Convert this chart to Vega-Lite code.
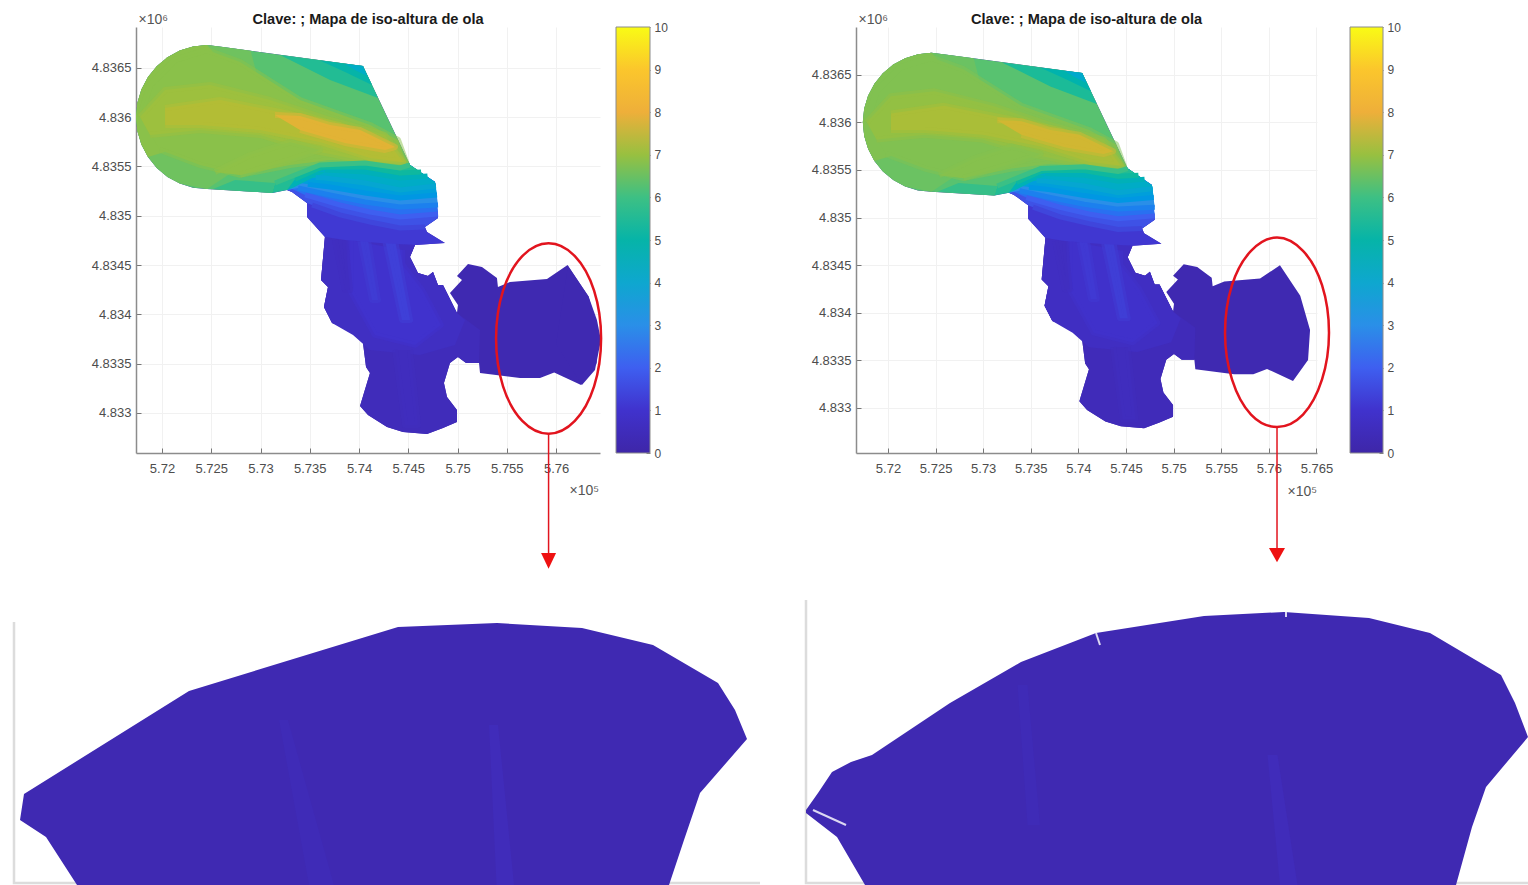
{"$schema":"https://vega.github.io/schema/vega-lite/v6.json","padding":{"left":9,"top":12,"right":0,"bottom":0},"columns":9,"bounds":"flush","spacing":{"row":147,"column":0},"resolve":{"scale":{"color":"independent"}},
"config":{"font":"Liberation Sans","view":{"stroke":null},"title":{"font":"Liberation Sans","fontSize":14.6,"fontWeight":"bold","color":"#1a1a1a","anchor":"middle","offset":-15},"axis":{"grid":true,"gridColor":"#f1f1f1","domainColor":"#8c8c8c","domainWidth":1.5,"tickColor":"#777777","tickSize":-5,"labelColor":"#4d4d4d","labelFontSize":13,"labelFont":"Liberation Sans","labelOverlap":false,"labelFlush":false,"titleFontWeight":"normal","titleFont":"Liberation Sans","titleColor":"#555555","titleFontSize":14,"titleAlign":"left","titleBaseline":"alphabetic","titleAngle":0}},
"datasets":{
"lev":[{"p":"a","v":0.25,"w":0.25},{"p":"a2","v":0.25},{"p":"b","v":0.48,"w":0.46},{"p":"c","v":0.72,"w":0.7},{"p":"d","v":1.0,"w":0.95},{"p":"e","v":1.2,"w":1.15},{"p":"f","v":1.3,"w":1.25},{"p":"g","v":0.65,"w":0.65},{"p":"h","v":0.6,"w":0.6},{"p":"i","v":1.15,"w":1.1},{"p":"j","v":1.7,"w":1.7},{"p":"k","v":2.3,"w":2.3},{"p":"l","v":3.0,"w":3.0},{"p":"m","v":3.6,"w":3.6},{"p":"n","v":4.3,"w":4.3},{"p":"o0","v":4.7,"w":4.7},{"p":"o","v":5.0,"w":5.0},{"p":"o2","v":5.6,"w":5.6},{"p":"q","v":6.3,"w":6.3},{"p":"q2","v":6.55,"w":6.5},{"p":"q3","v":6.85,"w":6.75},{"p":"r","v":5.9,"w":5.9},{"p":"s","v":5.6,"w":5.5},{"p":"t","v":5.0,"w":4.9},{"p":"u","v":4.3,"w":4.1},{"p":"v1","v":6.85,"w":6.75},{"p":"v2","v":7.05,"w":6.95},{"p":"v3","v":7.3,"w":7.2},{"p":"v4","v":7.85,"w":7.65},{"p":"v5","v":6.9,"w":6.8}],
"cur":[{"p":"j","v":1.42,"x":573523,"y":4835109},{"p":"j","v":1.42,"x":573807,"y":4835008},{"p":"j","v":1.42,"x":574111,"y":4834937},{"p":"j","v":1.42,"x":574416,"y":4834876},{"p":"j","v":1.42,"x":574669,"y":4834886},
{"p":"k","v":2.0,"x":573452,"y":4835211},{"p":"k","v":2.0,"x":573807,"y":4835109},{"p":"k","v":2.0,"x":574111,"y":4835038},{"p":"k","v":2.0,"x":574416,"y":4834988},{"p":"k","v":2.0,"x":574802,"y":4835018},
{"p":"l","v":2.65,"x":573381,"y":4835282},{"p":"l","v":2.65,"x":573706,"y":4835211},{"p":"l","v":2.65,"x":574061,"y":4835140},{"p":"l","v":2.65,"x":574416,"y":4835089},{"p":"l","v":2.65,"x":574802,"y":4835109},
{"p":"m","v":3.3,"x":573480,"y":4835318},{"p":"m","v":3.3,"x":573706,"y":4835292},{"p":"m","v":3.3,"x":574061,"y":4835231},{"p":"m","v":3.3,"x":574416,"y":4835180},{"p":"m","v":3.3,"x":574792,"y":4835211},
{"p":"n","v":3.95,"x":573560,"y":4835388},{"p":"n","v":3.95,"x":573654,"y":4835383},{"p":"n","v":3.95,"x":574061,"y":4835332},{"p":"n","v":3.95,"x":574416,"y":4835261},{"p":"n","v":3.95,"x":574781,"y":4835302},
{"p":"o","v":4.65,"x":573654,"y":4835464},{"p":"o","v":4.65,"x":574061,"y":4835444},{"p":"o","v":4.65,"x":574416,"y":4835383},{"p":"o","v":4.65,"x":574695,"y":4835403},
{"p":"o2","v":5.3,"x":573350,"y":4835370},{"p":"o2","v":5.3,"x":573624,"y":4835495},{"p":"o2","v":5.3,"x":574061,"y":4835495},{"p":"o2","v":5.3,"x":574416,"y":4835434},{"p":"o2","v":5.3,"x":574630,"y":4835444},
{"p":"q","v":5.95,"x":573147,"y":4835332},{"p":"q","v":5.95,"x":573604,"y":4835515},{"p":"q","v":5.95,"x":574061,"y":4835535},{"p":"q","v":5.95,"x":574416,"y":4835485},{"p":"q","v":5.95,"x":574517,"y":4835515}],
"pts":[
{"p":"a","x":571736,"y":4836001},{"p":"a","x":571750,"y":4836143},{"p":"a","x":571791,"y":4836280},{"p":"a","x":571858,"y":4836407},{"p":"a","x":571947,"y":4836517},{"p":"a","x":572056,"y":4836608},{"p":"a","x":572181,"y":4836675},{"p":"a","x":572316,"y":4836717},{"p":"a","x":572457,"y":4836732},{"p":"a","x":572619,"y":4836711},{"p":"a","x":574040,"y":4836519},{"p":"a","x":574517,"y":4835515},{"p":"a","x":574619,"y":4835444},{"p":"a","x":574771,"y":4835342},{"p":"a","x":574801,"y":4834977},{"p":"a","x":574669,"y":4834886},{"p":"a","x":574690,"y":4834835},{"p":"a","x":574872,"y":4834724},{"p":"a","x":574568,"y":4834704},{"p":"a","x":574517,"y":4834582},{"p":"a","x":574598,"y":4834420},{"p":"a","x":574700,"y":4834389},{"p":"a","x":574751,"y":4834430},{"p":"a","x":574801,"y":4834298},{"p":"a","x":574852,"y":4834298},{"p":"a","x":574994,"y":4834014},{"p":"a","x":575004,"y":4834095},{"p":"a","x":574923,"y":4834217},{"p":"a","x":575045,"y":4834349},{"p":"a","x":574994,"y":4834389},{"p":"a","x":575106,"y":4834511},{"p":"a","x":575248,"y":4834480},{"p":"a","x":575400,"y":4834369},{"p":"a","x":575410,"y":4834278},{"p":"a","x":575532,"y":4834328},{"p":"a","x":575908,"y":4834359},{"p":"a","x":576117,"y":4834500},{"p":"a","x":576330,"y":4834180},{"p":"a","x":576433,"y":4833819},{"p":"a","x":576412,"y":4833504},{"p":"a","x":576254,"y":4833284},{"p":"a","x":575981,"y":4833410},{"p":"a","x":575837,"y":4833355},{"p":"a","x":575634,"y":4833355},{"p":"a","x":575228,"y":4833406},{"p":"a","x":575218,"y":4833507},{"p":"a","x":575086,"y":4833507},{"p":"a","x":575004,"y":4833568},{"p":"a","x":574923,"y":4833507},{"p":"a","x":574862,"y":4833304},{"p":"a","x":574893,"y":4833162},{"p":"a","x":574994,"y":4833030},{"p":"a","x":574994,"y":4832909},{"p":"a","x":574852,"y":4832848},{"p":"a","x":574690,"y":4832787},{"p":"a","x":574446,"y":4832807},{"p":"a","x":574284,"y":4832858},{"p":"a","x":574091,"y":4832980},{"p":"a","x":574010,"y":4833071},{"p":"a","x":574111,"y":4833406},{"p":"a","x":574071,"y":4833466},{"p":"a","x":574040,"y":4833710},{"p":"a","x":573939,"y":4833842},{"p":"a","x":573726,"y":4833913},{"p":"a","x":573644,"y":4834075},{"p":"a","x":573685,"y":4834278},{"p":"a","x":573614,"y":4834349},{"p":"a","x":573654,"y":4834785},{"p":"a","x":573472,"y":4834987},{"p":"a","x":573472,"y":4835129},{"p":"a","x":573320,"y":4835241},{"p":"a","x":573269,"y":4835261},{"p":"a","x":573117,"y":4835231},{"p":"a","x":572457,"y":4835271},{"p":"a","x":572316,"y":4835285},{"p":"a","x":572181,"y":4835327},{"p":"a","x":572056,"y":4835394},{"p":"a","x":571947,"y":4835485},{"p":"a","x":571858,"y":4835595},{"p":"a","x":571791,"y":4835722},{"p":"a","x":571750,"y":4835859},
{"p":"a2","x":576121,"y":4834491},{"p":"a2","x":576330,"y":4834180},{"p":"a2","x":576415,"y":4833943},{"p":"a2","x":576456,"y":4833740},{"p":"a2","x":576395,"y":4833436},{"p":"a2","x":576263,"y":4833284},{"p":"a2","x":576000,"y":4833700},
{"p":"b","x":575218,"y":4833507},{"p":"b","x":575086,"y":4833507},{"p":"b","x":575004,"y":4833568},{"p":"b","x":574923,"y":4833507},{"p":"b","x":574862,"y":4833304},{"p":"b","x":574893,"y":4833162},{"p":"b","x":574994,"y":4833030},{"p":"b","x":574994,"y":4832909},{"p":"b","x":574852,"y":4832848},{"p":"b","x":574690,"y":4832787},{"p":"b","x":574446,"y":4832807},{"p":"b","x":574284,"y":4832858},{"p":"b","x":574091,"y":4832980},{"p":"b","x":574010,"y":4833071},{"p":"b","x":574111,"y":4833406},{"p":"b","x":574071,"y":4833466},{"p":"b","x":574040,"y":4833710},{"p":"b","x":573939,"y":4833842},{"p":"b","x":573726,"y":4833913},{"p":"b","x":573644,"y":4834075},{"p":"b","x":573685,"y":4834278},{"p":"b","x":573614,"y":4834349},{"p":"b","x":573654,"y":4834785},{"p":"b","x":574568,"y":4834704},{"p":"b","x":574517,"y":4834582},{"p":"b","x":574598,"y":4834420},{"p":"b","x":574700,"y":4834389},{"p":"b","x":574751,"y":4834430},{"p":"b","x":574801,"y":4834298},{"p":"b","x":574852,"y":4834298},{"p":"b","x":574994,"y":4834014},{"p":"b","x":575228,"y":4833842},
{"p":"c","x":573654,"y":4834785},{"p":"c","x":573614,"y":4834349},{"p":"c","x":573685,"y":4834278},{"p":"c","x":573644,"y":4834075},{"p":"c","x":573726,"y":4833913},{"p":"c","x":573939,"y":4833791},{"p":"c","x":574111,"y":4833639},{"p":"c","x":574619,"y":4833588},{"p":"c","x":574974,"y":4833690},{"p":"c","x":575076,"y":4833943},{"p":"c","x":574994,"y":4834014},{"p":"c","x":574852,"y":4834298},{"p":"c","x":574801,"y":4834298},{"p":"c","x":574751,"y":4834430},{"p":"c","x":574700,"y":4834389},{"p":"c","x":574598,"y":4834420},{"p":"c","x":574517,"y":4834582},{"p":"c","x":574568,"y":4834704},
{"p":"d","x":573909,"y":4834754},{"p":"d","x":573909,"y":4834247},{"p":"d","x":574162,"y":4833791},{"p":"d","x":574568,"y":4833690},{"p":"d","x":574830,"y":4833893},{"p":"d","x":574640,"y":4834247},{"p":"d","x":574440,"y":4834501},{"p":"d","x":574440,"y":4834653},
{"p":"e","x":574010,"y":4834754},{"p":"e","x":574132,"y":4834146},{"p":"e","x":574193,"y":4834146},{"p":"e","x":574091,"y":4834754},
{"p":"f","x":574264,"y":4834754},{"p":"f","x":574436,"y":4833943},{"p":"f","x":574518,"y":4833943},{"p":"f","x":574365,"y":4834754},
{"p":"g","x":573756,"y":4834754},{"p":"g","x":573858,"y":4834247},{"p":"g","x":573909,"y":4834247},{"p":"g","x":573858,"y":4834754},
{"p":"h","x":574365,"y":4833639},{"p":"h","x":574467,"y":4832878},{"p":"h","x":574599,"y":4832878},{"p":"h","x":574518,"y":4833639},
{"p":"i","x":573320,"y":4835241},{"p":"i","x":573269,"y":4835261},{"p":"i","x":573300,"y":4835464},{"p":"i","x":574365,"y":4835768},{"p":"i","x":574517,"y":4835515},{"p":"i","x":574619,"y":4835444},{"p":"i","x":574771,"y":4835342},{"p":"i","x":574801,"y":4834977},{"p":"i","x":574669,"y":4834886},{"p":"i","x":574690,"y":4834835},{"p":"i","x":574872,"y":4834724},{"p":"i","x":574568,"y":4834704},{"p":"i","x":574213,"y":4834724},{"p":"i","x":573858,"y":4834754},{"p":"i","x":573654,"y":4834785},{"p":"i","x":573472,"y":4834987},{"p":"i","x":573472,"y":4835129},
{"p":"j","x":573269,"y":4835261},{"p":"j","x":573300,"y":4835464},{"p":"j","x":574365,"y":4835768},{"p":"j","x":574517,"y":4835515},{"p":"j","x":574619,"y":4835444},{"p":"j","x":574771,"y":4835342},{"p":"j","x":574801,"y":4834977},{"p":"j","x":574669,"y":4834886},{"p":"j","x":574416,"y":4834876},{"p":"j","x":574111,"y":4834937},{"p":"j","x":573807,"y":4835008},{"p":"j","x":573523,"y":4835109},{"p":"j","x":573472,"y":4835129},{"p":"j","x":573320,"y":4835241},
{"p":"k","x":573269,"y":4835261},{"p":"k","x":573300,"y":4835464},{"p":"k","x":574365,"y":4835768},{"p":"k","x":574517,"y":4835515},{"p":"k","x":574619,"y":4835444},{"p":"k","x":574771,"y":4835342},{"p":"k","x":574802,"y":4835018},{"p":"k","x":574416,"y":4834988},{"p":"k","x":574111,"y":4835038},{"p":"k","x":573807,"y":4835109},{"p":"k","x":573452,"y":4835211},{"p":"k","x":573320,"y":4835272},
{"p":"l","x":573269,"y":4835261},{"p":"l","x":573300,"y":4835464},{"p":"l","x":574365,"y":4835768},{"p":"l","x":574517,"y":4835515},{"p":"l","x":574619,"y":4835444},{"p":"l","x":574771,"y":4835342},{"p":"l","x":574802,"y":4835109},{"p":"l","x":574416,"y":4835089},{"p":"l","x":574061,"y":4835140},{"p":"l","x":573706,"y":4835211},{"p":"l","x":573381,"y":4835282},
{"p":"m","x":573269,"y":4835261},{"p":"m","x":573300,"y":4835464},{"p":"m","x":574365,"y":4835768},{"p":"m","x":574517,"y":4835515},{"p":"m","x":574619,"y":4835444},{"p":"m","x":574771,"y":4835342},{"p":"m","x":574792,"y":4835211},{"p":"m","x":574416,"y":4835180},{"p":"m","x":574061,"y":4835231},{"p":"m","x":573706,"y":4835292},{"p":"m","x":573320,"y":4835343},
{"p":"n","x":573269,"y":4835261},{"p":"n","x":573300,"y":4835464},{"p":"n","x":574365,"y":4835768},{"p":"n","x":574517,"y":4835515},{"p":"n","x":574619,"y":4835444},{"p":"n","x":574771,"y":4835342},{"p":"n","x":574781,"y":4835302},{"p":"n","x":574416,"y":4835261},{"p":"n","x":574061,"y":4835332},{"p":"n","x":573654,"y":4835383},{"p":"n","x":573279,"y":4835383},
{"p":"o0","x":573269,"y":4835261},{"p":"o0","x":573340,"y":4835290},{"p":"o0","x":573500,"y":4835370},{"p":"o0","x":573654,"y":4835440},{"p":"o0","x":573300,"y":4835480},
{"p":"o","x":573249,"y":4835403},{"p":"o","x":573300,"y":4835464},{"p":"o","x":574365,"y":4835768},{"p":"o","x":574517,"y":4835515},{"p":"o","x":574619,"y":4835444},{"p":"o","x":574695,"y":4835403},{"p":"o","x":574416,"y":4835383},{"p":"o","x":574061,"y":4835444},{"p":"o","x":573654,"y":4835464},
{"p":"o2","x":573117,"y":4835231},{"p":"o2","x":573269,"y":4835261},{"p":"o2","x":573350,"y":4835370},{"p":"o2","x":573624,"y":4835495},{"p":"o2","x":574061,"y":4835495},{"p":"o2","x":574416,"y":4835434},{"p":"o2","x":574630,"y":4835444},{"p":"o2","x":574517,"y":4835515},{"p":"o2","x":574365,"y":4835768},{"p":"o2","x":573300,"y":4835667},{"p":"o2","x":573100,"y":4835500},
{"p":"q","x":573117,"y":4835231},{"p":"q","x":572457,"y":4835271},{"p":"q","x":572316,"y":4835285},{"p":"q","x":572181,"y":4835327},{"p":"q","x":572056,"y":4835394},{"p":"q","x":571947,"y":4835485},{"p":"q","x":571858,"y":4835595},{"p":"q","x":571791,"y":4835722},{"p":"q","x":571750,"y":4835859},{"p":"q","x":571736,"y":4836001},{"p":"q","x":571750,"y":4836143},{"p":"q","x":571791,"y":4836280},{"p":"q","x":571858,"y":4836407},{"p":"q","x":571947,"y":4836517},{"p":"q","x":572056,"y":4836608},{"p":"q","x":572181,"y":4836675},{"p":"q","x":572316,"y":4836717},{"p":"q","x":572457,"y":4836732},{"p":"q","x":572619,"y":4836711},{"p":"q","x":574040,"y":4836519},{"p":"q","x":574517,"y":4835515},{"p":"q","x":574416,"y":4835485},{"p":"q","x":574061,"y":4835535},{"p":"q","x":573604,"y":4835515},{"p":"q","x":573147,"y":4835332},
{"p":"q2","x":572900,"y":4836673},{"p":"q2","x":572619,"y":4836711},{"p":"q2","x":572457,"y":4836732},{"p":"q2","x":572316,"y":4836717},{"p":"q2","x":572181,"y":4836675},{"p":"q2","x":572056,"y":4836608},{"p":"q2","x":571947,"y":4836517},{"p":"q2","x":571858,"y":4836407},{"p":"q2","x":571791,"y":4836280},{"p":"q2","x":571750,"y":4836143},{"p":"q2","x":571736,"y":4836001},{"p":"q2","x":571750,"y":4835859},{"p":"q2","x":571791,"y":4835722},{"p":"q2","x":571858,"y":4835595},{"p":"q2","x":571947,"y":4835485},{"p":"q2","x":572056,"y":4835394},{"p":"q2","x":572181,"y":4835327},{"p":"q2","x":572457,"y":4835271},{"p":"q2","x":572800,"y":4835500},{"p":"q2","x":573050,"y":4836100},
{"p":"q3","x":572457,"y":4836732},{"p":"q3","x":572316,"y":4836717},{"p":"q3","x":572181,"y":4836675},{"p":"q3","x":572056,"y":4836608},{"p":"q3","x":571947,"y":4836517},{"p":"q3","x":571858,"y":4836407},{"p":"q3","x":571791,"y":4836280},{"p":"q3","x":571750,"y":4836143},{"p":"q3","x":571736,"y":4836001},{"p":"q3","x":571750,"y":4835859},{"p":"q3","x":571791,"y":4835722},{"p":"q3","x":571858,"y":4835595},{"p":"q3","x":572200,"y":4835700},{"p":"q3","x":572600,"y":4836100},{"p":"q3","x":572650,"y":4836500},
{"p":"r","x":572518,"y":4835271},{"p":"r","x":573117,"y":4835231},{"p":"r","x":573147,"y":4835332},{"p":"r","x":572741,"y":4835363},
{"p":"s","x":573198,"y":4836630},{"p":"s","x":574040,"y":4836519},{"p":"s","x":574193,"y":4836194},{"p":"s","x":573706,"y":4836377},
{"p":"t","x":573604,"y":4836575},{"p":"t","x":574040,"y":4836519},{"p":"t","x":574132,"y":4836326},{"p":"t","x":573858,"y":4836458},
{"p":"u","x":573858,"y":4836539},{"p":"u","x":574040,"y":4836519},{"p":"u","x":574082,"y":4836417},{"p":"u","x":573959,"y":4836478},
{"p":"v1","x":571777,"y":4836002},{"p":"v1","x":571879,"y":4836326},{"p":"v1","x":572132,"y":4836580},{"p":"v1","x":572457,"y":4836681},{"p":"v1","x":572792,"y":4836559},{"p":"v1","x":573401,"y":4836174},{"p":"v1","x":574112,"y":4835920},{"p":"v1","x":574396,"y":4835768},{"p":"v1","x":574477,"y":4835545},{"p":"v1","x":574213,"y":4835535},{"p":"v1","x":573706,"y":4835566},{"p":"v1","x":573300,"y":4835515},{"p":"v1","x":572792,"y":4835414},{"p":"v1","x":572386,"y":4835515},{"p":"v1","x":571980,"y":4835667},
{"p":"v2","x":571777,"y":4836002},{"p":"v2","x":572031,"y":4836275},{"p":"v2","x":572488,"y":4836326},{"p":"v2","x":573097,"y":4836174},{"p":"v2","x":573706,"y":4835971},{"p":"v2","x":574264,"y":4835819},{"p":"v2","x":574467,"y":4835545},{"p":"v2","x":574010,"y":4835566},{"p":"v2","x":573503,"y":4835667},{"p":"v2","x":572995,"y":4835819},{"p":"v2","x":572386,"y":4835870},{"p":"v2","x":571879,"y":4835819},
{"p":"v3","x":572031,"y":4836093},{"p":"v3","x":572589,"y":4836174},{"p":"v3","x":573198,"y":4836052},{"p":"v3","x":573807,"y":4835920},{"p":"v3","x":574315,"y":4835717},{"p":"v3","x":574447,"y":4835545},{"p":"v3","x":574112,"y":4835586},{"p":"v3","x":573604,"y":4835748},{"p":"v3","x":572995,"y":4835870},{"p":"v3","x":572386,"y":4835920},{"p":"v3","x":572031,"y":4835920},
{"p":"v4","x":573147,"y":4836022},{"p":"v4","x":573401,"y":4836012},{"p":"v4","x":573706,"y":4835920},{"p":"v4","x":574010,"y":4835870},{"p":"v4","x":574365,"y":4835697},{"p":"v4","x":574264,"y":4835667},{"p":"v4","x":573858,"y":4835738},{"p":"v4","x":573401,"y":4835870},
{"p":"v5","x":572538,"y":4835444},{"p":"v5","x":572894,"y":4835616},{"p":"v5","x":573300,"y":4835748},{"p":"v5","x":573604,"y":4835667},{"p":"v5","x":573300,"y":4835566},{"p":"v5","x":572792,"y":4835414}
]},
"concat":[
{"width":122,"height":426,"data":{"values":[{"a":1}]},"mark":{"type":"point","opacity":0},"encoding":{}},
{"width":464,"height":426,"title":"Clave: ; Mapa de iso-altura de ola",
"encoding":{"x":{"field":"x","type":"quantitative","scale":{"domain":[571736,576446],"nice":false,"zero":false},"axis":{"values":[572000,572500,573000,573500,574000,574500,575000,575500,576000],"labelExpr":"format(datum.value/100000,'.4~f')","labelPadding":14,"title":"×10⁵","titleX":433,"titleY":41}},"y":{"field":"y","type":"quantitative","scale":{"domain":[4832594,4836914],"nice":false,"zero":false},"axis":{"values":[4833000,4833500,4834000,4834500,4835000,4835500,4836000,4836500],"labelExpr":"format(datum.value/1000000,'.4~f')","labelPadding":10,"title":"×10⁶","titleX":2,"titleY":-4}}},
"layer":[
{"data":{"name":"pts"},"transform":[{"lookup":"p","from":{"data":{"name":"lev"},"key":"p","fields":["v","w"]}},{"window":[{"op":"row_number","as":"i"}]}],"mark":{"type":"line","filled":true,"strokeWidth":6,"strokeJoin":"round"},"encoding":{"detail":{"field":"p"},"order":{"field":"i","type":"quantitative"},"strokeOpacity":{"condition":{"test":"indexof(['v1','v2','v3','v4','v5','d','e','f','g','h'],datum.p)>=0","value":0.5},"value":0},"stroke":{"field":"v","type":"quantitative","legend":null,"scale":{"domain":[0,1,2,3,4,5,6,7,8,9,10],"range":["#3e26a8","#4032cd","#3e5ff0","#2a8fe8","#0ea7cf","#06b4a8","#3dc084","#98c040","#eeaf3a","#fbc62c","#f9fb15"]}},"color":{"field":"v","type":"quantitative","legend":null,"scale":{"domain":[0,1,2,3,4,5,6,7,8,9,10],"range":["#3e26a8","#4032cd","#3e5ff0","#2a8fe8","#0ea7cf","#06b4a8","#3dc084","#98c040","#eeaf3a","#fbc62c","#f9fb15"]}}}},
{"data":{"name":"cur"},"transform":[{"window":[{"op":"row_number","as":"i"}]}],"mark":{"type":"line","strokeWidth":5,"strokeCap":"butt"},"encoding":{"detail":{"field":"p"},"order":{"field":"i","type":"quantitative"},"color":{"field":"v","type":"quantitative","legend":null,"scale":{"domain":[0,1,2,3,4,5,6,7,8,9,10],"range":["#3e26a8","#4032cd","#3e5ff0","#2a8fe8","#0ea7cf","#06b4a8","#3dc084","#98c040","#eeaf3a","#fbc62c","#f9fb15"]}}}},
{"data":{"values":[{"x":576457,"y":4833755},{"x":576386,"y":4833270},{"x":576191,"y":4832920},{"x":575924,"y":4832790},{"x":575657,"y":4832920},{"x":575462,"y":4833270},{"x":575391,"y":4833755},{"x":575462,"y":4834240},{"x":575657,"y":4834590},{"x":575924,"y":4834720},{"x":576191,"y":4834590},{"x":576386,"y":4834240}]},"transform":[{"window":[{"op":"row_number","as":"i"}]}],"mark":{"type":"line","interpolate":"cardinal-closed","color":"#e2141e","strokeWidth":2.5},"encoding":{"order":{"field":"i","type":"quantitative"}}},
{"data":{"values":[{"x":575924,"y":4832790,"y2":4831580}]},"mark":{"type":"rule","color":"#e2141e","strokeWidth":1.5},"encoding":{"y2":{"field":"y2"}}},
{"data":{"values":[{"x":575848,"y":4831580},{"x":576000,"y":4831580},{"x":575924,"y":4831420}]},"transform":[{"window":[{"op":"row_number","as":"i"}]}],"mark":{"type":"line","filled":true,"color":"#ee1111"},"encoding":{"order":{"field":"i","type":"quantitative"}}}
]},
{"width":16,"height":426,"data":{"values":[{"a":1}]},"mark":{"type":"point","opacity":0},"encoding":{}},
{"width":34,"height":426,"data":{"values":[{"a":0,"b":10}]},"mark":{"type":"rect","stroke":"#8c8c8c","strokeWidth":1,"color":{"gradient":"linear","x1":0,"y1":1,"x2":0,"y2":0,"stops":[{"offset":0,"color":"#3e26a8"},{"offset":0.1,"color":"#4032cd"},{"offset":0.2,"color":"#3e5ff0"},{"offset":0.3,"color":"#2a8fe8"},{"offset":0.4,"color":"#0ea7cf"},{"offset":0.5,"color":"#06b4a8"},{"offset":0.6,"color":"#3dc084"},{"offset":0.7,"color":"#98c040"},{"offset":0.8,"color":"#eeaf3a"},{"offset":0.9,"color":"#fbc62c"},{"offset":1,"color":"#f9fb15"}]}},"encoding":{"y":{"field":"a","type":"quantitative","scale":{"domain":[0,10],"nice":false},"axis":{"orient":"right","values":[0,1,2,3,4,5,6,7,8,9,10],"grid":false,"domain":false,"tickSize":-4,"labelPadding":8,"labelFontSize":12,"title":null}},"y2":{"field":"b"}}},
{"width":155,"height":426,"data":{"values":[{"a":1}]},"mark":{"type":"point","opacity":0},"encoding":{}},
{"width":51,"height":426,"data":{"values":[{"a":1}]},"mark":{"type":"point","opacity":0},"encoding":{}},
{"width":461,"height":426,"title":"Clave: ; Mapa de iso-altura de ola",
"encoding":{"x":{"field":"x","type":"quantitative","scale":{"domain":[571664,576506],"nice":false,"zero":false},"axis":{"values":[572000,572500,573000,573500,574000,574500,575000,575500,576000,576500],"labelExpr":"format(datum.value/100000,'.4~f')","labelPadding":14,"title":"×10⁵","titleX":431,"titleY":42}},"y":{"field":"y","type":"quantitative","scale":{"domain":[4832527,4837002],"nice":false,"zero":false},"axis":{"values":[4833000,4833500,4834000,4834500,4835000,4835500,4836000,4836500],"labelExpr":"format(datum.value/1000000,'.4~f')","labelPadding":10,"title":"×10⁶","titleX":2,"titleY":-4}}},
"layer":[
{"data":{"name":"pts"},"transform":[{"lookup":"p","from":{"data":{"name":"lev"},"key":"p","fields":["v","w"]}},{"filter":"isValid(datum.w)"},{"window":[{"op":"row_number","as":"i"}]}],"mark":{"type":"line","filled":true,"strokeWidth":6,"strokeJoin":"round"},"encoding":{"detail":{"field":"p"},"order":{"field":"i","type":"quantitative"},"strokeOpacity":{"condition":{"test":"indexof(['v1','v2','v3','v4','v5','d','e','f','g','h'],datum.p)>=0","value":0.5},"value":0},"stroke":{"field":"w","type":"quantitative","legend":null,"scale":{"domain":[0,1,2,3,4,5,6,7,8,9,10],"range":["#3e26a8","#4032cd","#3e5ff0","#2a8fe8","#0ea7cf","#06b4a8","#3dc084","#98c040","#eeaf3a","#fbc62c","#f9fb15"]}},"color":{"field":"w","type":"quantitative","legend":null,"scale":{"domain":[0,1,2,3,4,5,6,7,8,9,10],"range":["#3e26a8","#4032cd","#3e5ff0","#2a8fe8","#0ea7cf","#06b4a8","#3dc084","#98c040","#eeaf3a","#fbc62c","#f9fb15"]}}}},
{"data":{"name":"cur"},"transform":[{"window":[{"op":"row_number","as":"i"}]}],"mark":{"type":"line","strokeWidth":5,"strokeCap":"butt"},"encoding":{"detail":{"field":"p"},"order":{"field":"i","type":"quantitative"},"color":{"field":"v","type":"quantitative","legend":null,"scale":{"domain":[0,1,2,3,4,5,6,7,8,9,10],"range":["#3e26a8","#4032cd","#3e5ff0","#2a8fe8","#0ea7cf","#06b4a8","#3dc084","#98c040","#eeaf3a","#fbc62c","#f9fb15"]}}}},
{"data":{"values":[{"x":576632,"y":4833790},{"x":576559,"y":4833300},{"x":576359,"y":4832930},{"x":576086,"y":4832800},{"x":575813,"y":4832930},{"x":575613,"y":4833300},{"x":575540,"y":4833790},{"x":575613,"y":4834290},{"x":575813,"y":4834650},{"x":576086,"y":4834790},{"x":576359,"y":4834650},{"x":576559,"y":4834290}]},"transform":[{"window":[{"op":"row_number","as":"i"}]}],"mark":{"type":"line","interpolate":"cardinal-closed","color":"#e2141e","strokeWidth":2.5},"encoding":{"order":{"field":"i","type":"quantitative"}}},
{"data":{"values":[{"x":576086,"y":4832800,"y2":4831530}]},"mark":{"type":"rule","color":"#e2141e","strokeWidth":1.5},"encoding":{"y2":{"field":"y2"}}},
{"data":{"values":[{"x":576002,"y":4831530},{"x":576170,"y":4831530},{"x":576086,"y":4831380}]},"transform":[{"window":[{"op":"row_number","as":"i"}]}],"mark":{"type":"line","filled":true,"color":"#ee1111"},"encoding":{"order":{"field":"i","type":"quantitative"}}}
]},
{"width":33,"height":426,"data":{"values":[{"a":1}]},"mark":{"type":"point","opacity":0},"encoding":{}},
{"width":33,"height":426,"data":{"values":[{"a":0,"b":10}]},"mark":{"type":"rect","stroke":"#8c8c8c","strokeWidth":1,"color":{"gradient":"linear","x1":0,"y1":1,"x2":0,"y2":0,"stops":[{"offset":0,"color":"#3e26a8"},{"offset":0.1,"color":"#4032cd"},{"offset":0.2,"color":"#3e5ff0"},{"offset":0.3,"color":"#2a8fe8"},{"offset":0.4,"color":"#0ea7cf"},{"offset":0.5,"color":"#06b4a8"},{"offset":0.6,"color":"#3dc084"},{"offset":0.7,"color":"#98c040"},{"offset":0.8,"color":"#eeaf3a"},{"offset":0.9,"color":"#fbc62c"},{"offset":1,"color":"#f9fb15"}]}},"encoding":{"y":{"field":"a","type":"quantitative","scale":{"domain":[0,10],"nice":false},"axis":{"orient":"right","values":[0,1,2,3,4,5,6,7,8,9,10],"grid":false,"domain":false,"tickSize":-4,"labelPadding":8,"labelFontSize":12,"title":null}},"y2":{"field":"b"}}},
{"width":122,"height":285,
"encoding":{"x":{"field":"x","type":"quantitative","scale":{"domain":[0,244],"nice":false,"zero":false},"axis":null},"y":{"field":"y","type":"quantitative","scale":{"domain":[0,570],"nice":false,"zero":false},"axis":null}},
"layer":[
{"data":{"values":[{"x":0,"y":526},{"x":0,"y":4},{"x":1492,"y":4}]},"transform":[{"window":[{"op":"row_number","as":"i"}]}],"mark":{"type":"line","color":"#dcdcdc","strokeWidth":2.5},"encoding":{"order":{"field":"i","type":"quantitative"}}},
{"data":{"values":[{"p":"a","v":0.28,"x":20,"y":182},{"p":"a","v":0.28,"x":350,"y":388},{"p":"a","v":0.28,"x":768,"y":516},{"p":"a","v":0.28,"x":966,"y":524},{"p":"a","v":0.28,"x":1136,"y":514},{"p":"a","v":0.28,"x":1278,"y":480},{"p":"a","v":0.28,"x":1408,"y":404},{"p":"a","v":0.28,"x":1442,"y":350},{"p":"a","v":0.28,"x":1466,"y":292},{"p":"a","v":0.28,"x":1372,"y":184},{"p":"a","v":0.28,"x":1340,"y":90},{"p":"a","v":0.28,"x":1310,"y":0},{"p":"a","v":0.28,"x":126,"y":0},{"p":"a","v":0.28,"x":64,"y":96},{"p":"a","v":0.28,"x":12,"y":130},{"p":"b","v":0.48,"x":950,"y":320},{"p":"b","v":0.48,"x":968,"y":320},{"p":"b","v":0.48,"x":1000,"y":0},{"p":"b","v":0.48,"x":965,"y":0},{"p":"c","v":0.42,"x":530,"y":330},{"p":"c","v":0.42,"x":548,"y":330},{"p":"c","v":0.42,"x":640,"y":0},{"p":"c","v":0.42,"x":590,"y":0}]},"transform":[{"window":[{"op":"row_number","as":"i"}]}],"mark":{"type":"line","filled":true},"encoding":{"detail":{"field":"p"},"order":{"field":"i","type":"quantitative"},"color":{"field":"v","type":"quantitative","legend":null,"scale":{"domain":[0,1,2,3,4,5,6,7,8,9,10],"range":["#3e26a8","#4032cd","#3e5ff0","#2a8fe8","#0ea7cf","#06b4a8","#3dc084","#98c040","#eeaf3a","#fbc62c","#f9fb15"]}}}}
]},
{"width":1,"height":1,"data":{"values":[{"a":1}]},"mark":{"type":"point","opacity":0},"encoding":{}},
{"width":1,"height":1,"data":{"values":[{"a":1}]},"mark":{"type":"point","opacity":0},"encoding":{}},
{"width":1,"height":1,"data":{"values":[{"a":1}]},"mark":{"type":"point","opacity":0},"encoding":{}},
{"width":1,"height":1,"data":{"values":[{"a":1}]},"mark":{"type":"point","opacity":0},"encoding":{}},
{"width":51,"height":285,
"encoding":{"x":{"field":"x","type":"quantitative","scale":{"domain":[0,102],"nice":false,"zero":false},"axis":null},"y":{"field":"y","type":"quantitative","scale":{"domain":[0,570],"nice":false,"zero":false},"axis":null}},
"layer":[
{"data":{"values":[{"x":2,"y":570},{"x":2,"y":4},{"x":1446,"y":4}]},"transform":[{"window":[{"op":"row_number","as":"i"}]}],"mark":{"type":"line","color":"#dcdcdc","strokeWidth":2.5},"encoding":{"order":{"field":"i","type":"quantitative"}}},
{"data":{"values":[{"p":"a","v":0.28,"x":2,"y":150},{"p":"a","v":0.28,"x":26,"y":184},{"p":"a","v":0.28,"x":54,"y":226},{"p":"a","v":0.28,"x":92,"y":246},{"p":"a","v":0.28,"x":134,"y":260},{"p":"a","v":0.28,"x":290,"y":364},{"p":"a","v":0.28,"x":432,"y":446},{"p":"a","v":0.28,"x":582,"y":504},{"p":"a","v":0.28,"x":798,"y":538},{"p":"a","v":0.28,"x":958,"y":546},{"p":"a","v":0.28,"x":1128,"y":534},{"p":"a","v":0.28,"x":1250,"y":504},{"p":"a","v":0.28,"x":1392,"y":420},{"p":"a","v":0.28,"x":1420,"y":364},{"p":"a","v":0.28,"x":1446,"y":296},{"p":"a","v":0.28,"x":1362,"y":196},{"p":"a","v":0.28,"x":1334,"y":116},{"p":"a","v":0.28,"x":1302,"y":0},{"p":"a","v":0.28,"x":120,"y":0},{"p":"a","v":0.28,"x":64,"y":96},{"p":"a","v":0.28,"x":2,"y":144},{"p":"b","v":0.48,"x":925,"y":260},{"p":"b","v":0.48,"x":945,"y":260},{"p":"b","v":0.48,"x":985,"y":0},{"p":"b","v":0.48,"x":950,"y":0},{"p":"c","v":0.42,"x":425,"y":400},{"p":"c","v":0.42,"x":445,"y":400},{"p":"c","v":0.42,"x":470,"y":120},{"p":"c","v":0.42,"x":445,"y":120}]},"transform":[{"window":[{"op":"row_number","as":"i"}]}],"mark":{"type":"line","filled":true},"encoding":{"detail":{"field":"p"},"order":{"field":"i","type":"quantitative"},"color":{"field":"v","type":"quantitative","legend":null,"scale":{"domain":[0,1,2,3,4,5,6,7,8,9,10],"range":["#3e26a8","#4032cd","#3e5ff0","#2a8fe8","#0ea7cf","#06b4a8","#3dc084","#98c040","#eeaf3a","#fbc62c","#f9fb15"]}}}},
{"data":{"values":[{"p":"a","x":582,"y":504},{"p":"a","x":590,"y":480},{"p":"b","x":962,"y":546},{"p":"b","x":962,"y":536},{"p":"c","x":16,"y":150},{"p":"c","x":82,"y":120}]},"transform":[{"window":[{"op":"row_number","as":"i"}]}],"mark":{"type":"line","color":"#dcd8f2","strokeWidth":2},"encoding":{"detail":{"field":"p"},"order":{"field":"i","type":"quantitative"}}}
]}
]}
